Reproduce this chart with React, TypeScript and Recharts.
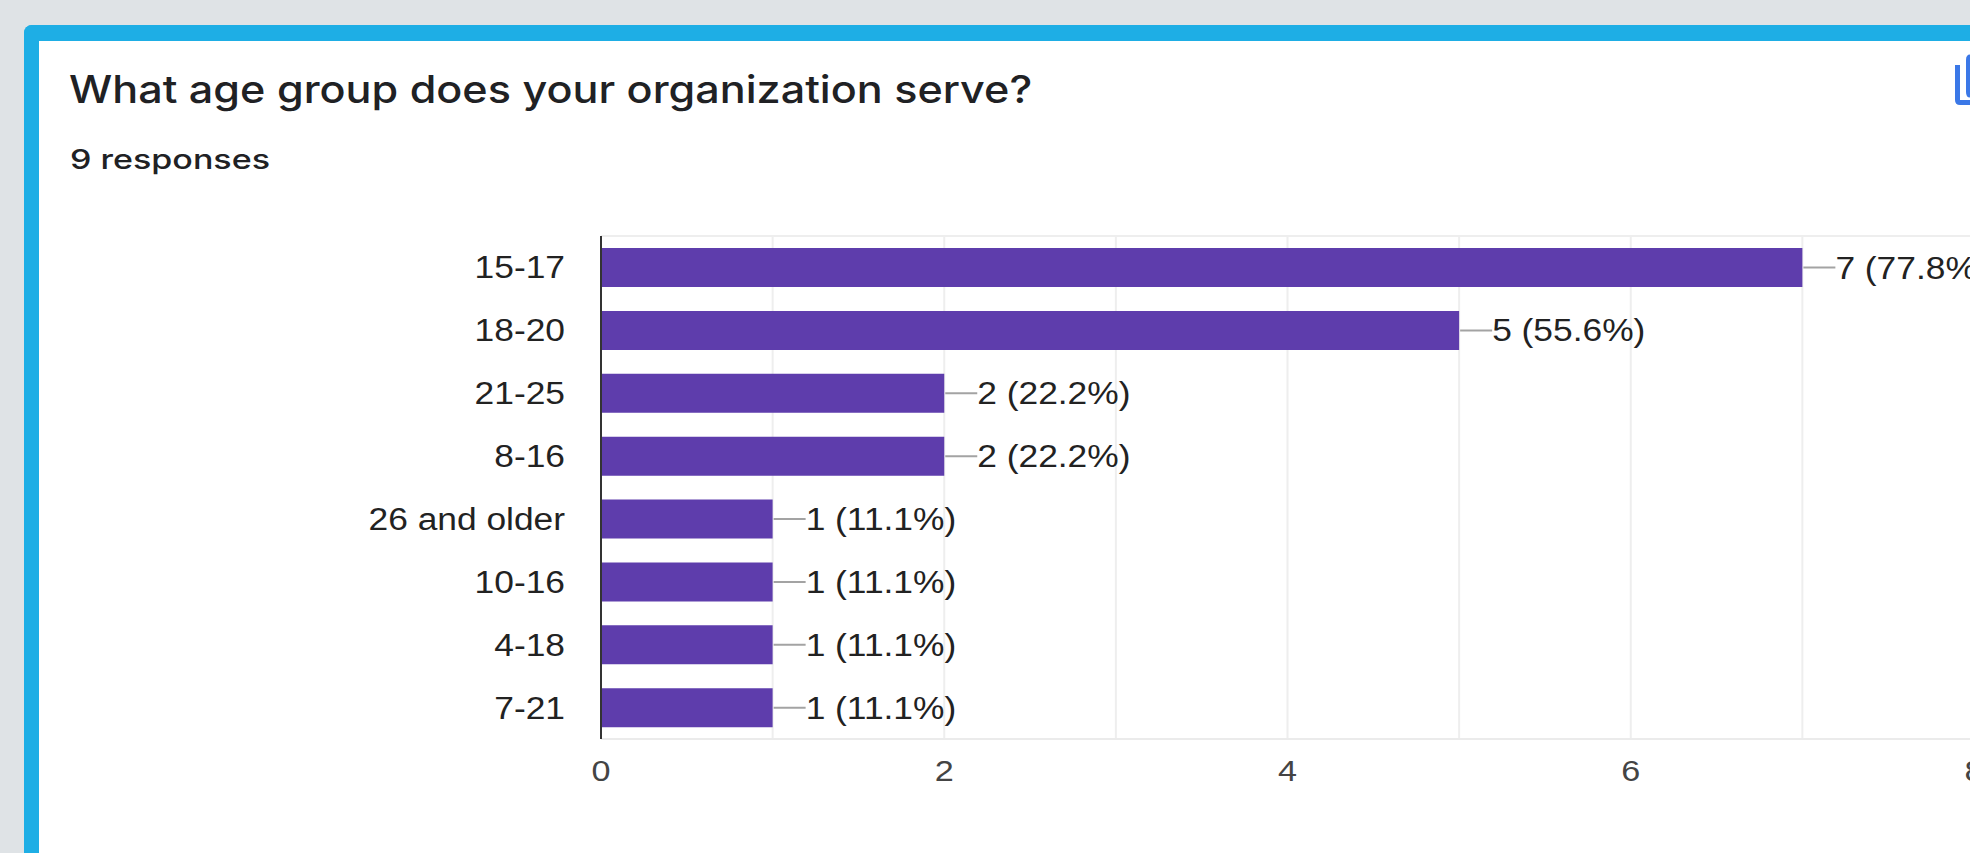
import React from 'react';
import { BarChart, Bar, XAxis, YAxis, CartesianGrid, LabelList } from 'recharts';

const AGE_GROUPS = ['15-17', '18-20', '21-25', '8-16', '26 and older', '10-16', '4-18', '7-21'];
const COUNTS = [7, 5, 2, 2, 1, 1, 1, 1];
const PERCENTS = ['77.8', '55.6', '22.2', '22.2', '11.1', '11.1', '11.1', '11.1'];
const X_TICKS = [0, 1, 2, 3, 4, 5, 6, 7, 8];

const data = AGE_GROUPS.map((name, i) => ({ name, count: COUNTS[i], percent: PERCENTS[i] }));

const LABEL_FONT = '"Liberation Sans", Arial, sans-serif';
const HEAD_FONT = 'Inter, sans-serif';
// the screenshot is stretched sideways, so the text is too
const STRETCH = 1.14;

const LeaderLabel = ({ x, y, width, height, index }: any) => {
  const end = x + width;
  const mid = y + height / 2;
  return (
    <g>
      <line x1={end + 1} x2={end + 33} y1={mid} y2={mid} stroke="#a3a3a3" strokeWidth={2} />
      <text
        transform={`translate(${end + 33},${mid + 11}) scale(${STRETCH},1)`}
        fontFamily={LABEL_FONT}
        fontSize={31}
        fill="#222"
      >
        {`${COUNTS[index]} (${PERCENTS[index]}%)`}
      </text>
    </g>
  );
};

const CategoryTick = ({ x, y, payload }: any) => (
  <text
    transform={`translate(${x},${y + 11}) scale(${STRETCH},1)`}
    textAnchor="end"
    fontFamily={LABEL_FONT}
    fontSize={31}
    fill="#222"
  >
    {payload.value}
  </text>
);

const ValueTick = ({ x, y, payload }: any) =>
  payload.value % 2 === 0 ? (
    <text
      transform={`translate(${x},${y + 28}) scale(${STRETCH},1)`}
      textAnchor="middle"
      fontFamily={LABEL_FONT}
      fontSize={30}
      fill="#444"
    >
      {payload.value}
    </text>
  ) : null;

export default function App() {
  return (
    <div style={{ position: 'absolute', left: 0, top: 0, width: 1970, height: 853, overflow: 'hidden', background: '#dfe3e6' }}>
      {/* card */}
      <div
        style={{
          position: 'absolute',
          left: 24,
          top: 25,
          width: 2100,
          height: 1000,
          background: '#fff',
          borderLeft: '15px solid #1eaee5',
          borderTop: '16px solid #1eaee5',
          borderTopLeftRadius: 8,
        }}
      />
      <div style={{ position: 'absolute', left: 69, top: 63, fontFamily: HEAD_FONT, fontWeight: 500, fontSize: 38, color: '#202124', whiteSpace: 'nowrap', lineHeight: '52px', transform: 'scaleX(1.135)', transformOrigin: 'left' }}>
        What age group does your organization serve?
      </div>
      <div style={{ position: 'absolute', left: 70, top: 142, fontFamily: HEAD_FONT, fontWeight: 500, fontSize: 27, color: '#202124', whiteSpace: 'nowrap', lineHeight: '36px', transform: 'scaleX(1.26)', transformOrigin: 'left' }}>
        9 responses
      </div>
      {/* copy icon, cut off by the right edge */}
      <svg style={{ position: 'absolute', left: 1950, top: 50, width: 20, height: 60 }}>
        <path d="M7.5 15 V50 Q7.5 52.5 10 52.5 H20" fill="none" stroke="#3b78e7" strokeWidth={5} />
        <path d="M20 7 Q18.5 7 18.5 10 V42 Q18.5 45 20 45" fill="none" stroke="#3b78e7" strokeWidth={5} />
      </svg>
      <div style={{ position: 'absolute', left: 0, top: 0 }}>
        <BarChart
          width={2000}
          height={853}
          data={data}
          layout="vertical"
          margin={{ top: 236, right: 26, bottom: 54, left: 0 }}
          barCategoryGap={12}
        >
          <CartesianGrid
            stroke="#eeeeee"
            strokeWidth={2}
            horizontalCoordinatesGenerator={({ offset }: any) => [offset.top]}
          />
          <XAxis
            type="number"
            domain={[0, 8]}
            ticks={X_TICKS}
            interval={0}
            tickLine={false}
            axisLine={{ stroke: '#ebebeb', strokeWidth: 2 }}
            tick={<ValueTick />}
            tickMargin={8}
            height={60}
          />
          <YAxis
            type="category"
            dataKey="name"
            width={601}
            interval={0}
            tickLine={false}
            axisLine={{ stroke: '#333', strokeWidth: 2 }}
            tick={<CategoryTick />}
            tickMargin={30}
          />
          <Bar dataKey="count" fill="#5e3dac" isAnimationActive={false}>
            <LabelList dataKey="count" content={<LeaderLabel />} />
          </Bar>
        </BarChart>
      </div>
    </div>
  );
}
